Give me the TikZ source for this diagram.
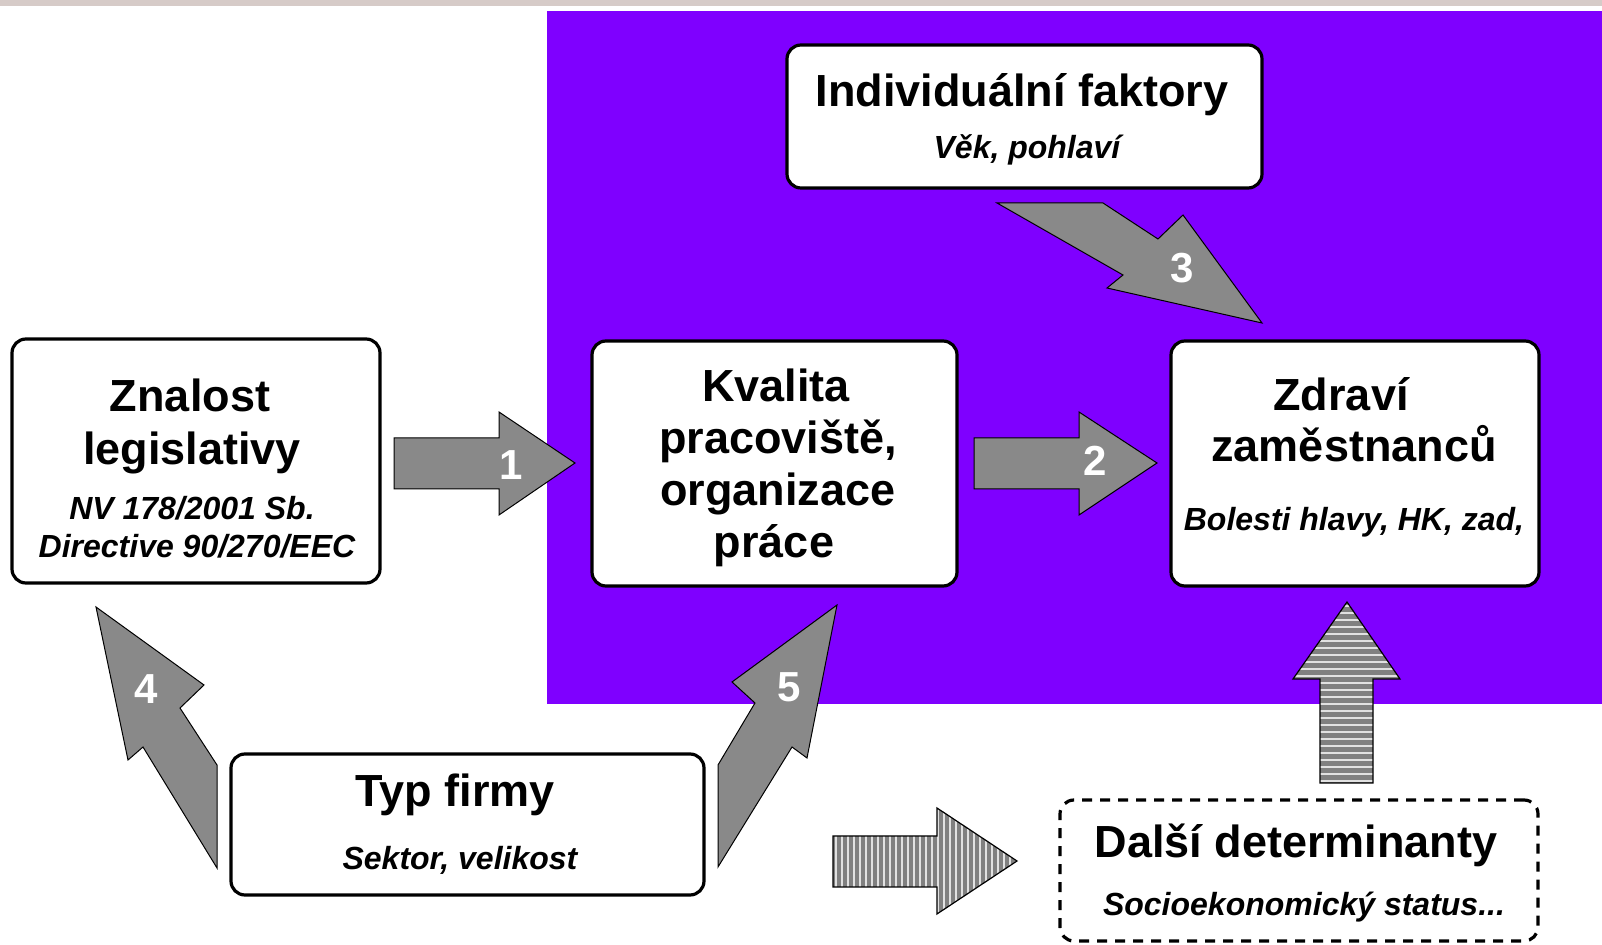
\documentclass[tikz,border=0pt]{standalone}
\usepackage{fontspec}
\setmainfont{Liberation Sans}
\definecolor{purp}{RGB}{127,0,255}
\definecolor{topgray}{RGB}{214,203,200}
\definecolor{arrowgray}{RGB}{137,137,137}
\definecolor{stripebg}{RGB}{128,128,128}
\definecolor{stripelight}{RGB}{225,225,225}
\begin{document}
\begin{tikzpicture}[x=0.5pt,y=-0.5pt,
  box/.style={draw=black, line width=1.6pt, rounded corners=7pt, fill=white, inner sep=0pt},
  dbox/.style={box, dash pattern=on 5pt off 4pt},
  ttl/.style={font=\fontsize{22.5}{26}\selectfont\bfseries, anchor=base, inner sep=0pt},
  sub/.style={font=\fontsize{16}{19}\selectfont\bfseries\itshape, anchor=base, inner sep=0pt},
  num/.style={font=\fontsize{21}{24}\selectfont\bfseries, text=white, inner sep=0pt},
  blk/.style={fill=arrowgray, draw=black, line width=0.5pt, line join=miter},
  stripe/.style={draw=stripelight, line width=0.8pt}]

\useasboundingbox (0,0) rectangle (1602,945);
\fill[topgray] (0,0) rectangle (1602,6);
\fill[purp] (547,11) rectangle (1602,704);

% boxes
\node[box, minimum width=184pt, minimum height=122pt] (znalost) at (196,461) {};
\node[box, minimum width=182.5pt, minimum height=122.5pt] (kvalita) at (774.5,463.5) {};
\node[box, minimum width=184pt, minimum height=122.5pt] (zdravi) at (1355,463.5) {};
\node[box, minimum width=237.5pt, minimum height=71.5pt] (indiv) at (1024.5,116.5) {};
\node[box, minimum width=236.5pt, minimum height=70.5pt] (typ) at (467.5,824.5) {};
\node[dbox, minimum width=239pt, minimum height=70.5pt] (dalsi) at (1299,870.5) {};

% texts
\node[ttl] (t1a) at (190,412) {Znalost};
\node[ttl] (t1b) at (192,465) {legislativy};
\node[sub] (t1c) at (192,520) {NV 178/2001 Sb.};
\node[sub] (t1d) at (197,558) {Directive 90/270/EEC};

\node[ttl] (t2a) at (776,402) {Kvalita};
\node[ttl] (t2b) at (778,454) {pracoviště,};
\node[ttl] (t2c) at (778,506) {organizace};
\node[ttl] (t2d) at (774,558) {práce};

\node[ttl] (t3a) at (1341,411) {Zdraví};
\node[ttl] (t3b) at (1354,462) {zaměstnanců};
\node[sub] (t3c) at (1354,531) {Bolesti hlavy, HK, zad,};

\node[ttl] (t4a) at (1022,107) {Individuální faktory};
\node[sub] (t4b) at (1027,159) {Věk, pohlaví};

\node[ttl] (t5a) at (455,807) {Typ firmy};
\node[sub] (t5b) at (460,870) {Sektor, velikost};

\node[ttl] (t6a) at (1296,858) {Další determinanty};
\node[sub] (t6b) at (1304,916) {Socioekonomický status...};

% block arrows
\draw[blk] (394,438) -- (499,438) -- (499,412) -- (575,463) -- (499,515) -- (499,489) -- (394,489) -- cycle;
\draw[blk] (974,438) -- (1079,438) -- (1079,412) -- (1157,463) -- (1079,515) -- (1079,489) -- (974,489) -- cycle;
\draw[blk] (997,203) -- (1103,203) -- (1158,239) -- (1183,215) -- (1262,323) -- (1107,288) -- (1123,275) -- cycle;
\draw[blk] (96,607) -- (204,685) -- (180,708) -- (217,765) -- (217,868) -- (143,747) -- (128,760) -- cycle;
\draw[blk] (837,605) -- (807,758) -- (792,747) -- (718,867) -- (718,765) -- (755,703) -- (732,682) -- cycle;

% striped horizontal arrow
\begin{scope}
  \clip (833,836) -- (937,836) -- (937,808) -- (1017,861) -- (937,914) -- (937,887) -- (833,887) -- cycle;
  \fill[stripebg] (830,800) rectangle (1020,920);
  \foreach \x in {836,842,...,1016} \draw[stripe] (\x,800) -- (\x,920);
\end{scope}
\draw[black, line width=0.6pt] (833,836) -- (937,836) -- (937,808) -- (1017,861) -- (937,914) -- (937,887) -- (833,887) -- cycle;

% striped vertical arrow
\begin{scope}
  \clip (1347,602) -- (1400,679) -- (1373,679) -- (1373,783) -- (1320,783) -- (1320,679) -- (1293,679) -- cycle;
  \fill[stripebg] (1290,600) rectangle (1405,785);
  \foreach \y in {606,613,...,783} \draw[stripe] (1290,\y) -- (1405,\y);
\end{scope}
\draw[black, line width=0.6pt] (1347,602) -- (1400,679) -- (1373,679) -- (1373,783) -- (1320,783) -- (1320,679) -- (1293,679) -- cycle;

% numbers
\node[num] (n1) at (511,465) {1};
\node[num] (n2) at (1095,461) {2};
\node[num] (n3) at (1182,268) {3};
\node[num] (n4) at (146,689) {4};
\node[num] (n5) at (789,687) {5};
\end{tikzpicture}
\end{document}
